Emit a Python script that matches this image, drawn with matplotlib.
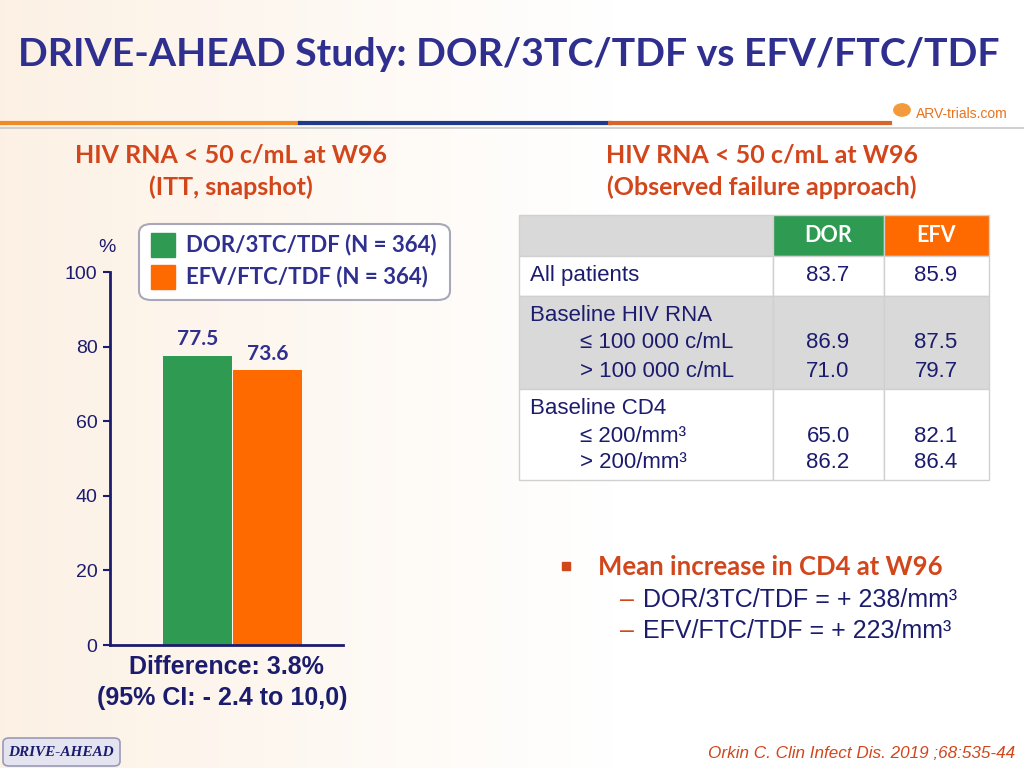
import numpy as np
import matplotlib.pyplot as plt
from matplotlib.patches import Rectangle, FancyBboxPatch

# ---- data ----
regimens = ["DOR/3TC/TDF (N = 364)", "EFV/FTC/TDF (N = 364)"]
itt_values = [77.5, 73.6]
bar_colors = ["#2e9a52", "#ff6a00"]
yticks = [0, 20, 40, 60, 80, 100]

table_cols = ["DOR", "EFV"]
table_labels = ["All patients", "Baseline HIV RNA", "≤ 100 000 c/mL", "> 100 000 c/mL",
                "Baseline CD4", "≤ 200/mm³", "> 200/mm³"]
dor_values = [83.7, None, 86.9, 71.0, None, 65.0, 86.2]
efv_values = [85.9, None, 87.5, 79.7, None, 82.1, 86.4]

cd4_regimens = ["DOR/3TC/TDF", "EFV/FTC/TDF"]
cd4_increase = [238, 223]

NAVY = "#1c1c6e"
TITLE_BLUE = "#2e2f8f"
ORANGE_RED = "#d2461c"
W, H = 1024, 768


def px(x, y):
    return x / W, 1 - y / H


fig = plt.figure(figsize=(10.24, 7.68), dpi=100)

# background gradient (cream on left fading to white)
bg = fig.add_axes([0, 0, 1, 1], zorder=-10)
grad = np.linspace(0, 1, 256)
rgb0 = np.array([0.99, 0.945, 0.895])
rgb1 = np.array([1.0, 1.0, 1.0])
t = np.clip(grad / 0.6, 0, 1)[None, :, None]
img = rgb0 * (1 - t) + rgb1 * t
bg.imshow(np.repeat(img, 2, axis=0), aspect="auto", extent=[0, 1, 0, 1])
bg.axis("off")

# title
fig.text(*px(18, 55), "DRIVE-AHEAD Study: DOR/3TC/TDF vs EFV/FTC/TDF",
         family="Lato", weight="bold", fontsize=28.3, color=TITLE_BLUE, va="center", ha="left")

# header rule
for x0, x1, c in [(0, 300, "#f08a24"), (300, 610, "#1f3a8a"), (610, 890, "#d9642a")]:
    fig.add_artist(plt.Line2D([x0 / W, x1 / W], [1 - 123 / H] * 2, color=c, lw=3))
fig.add_artist(plt.Line2D([0, 1], [1 - 128 / H] * 2, color="#c8c8c8", lw=1.2))
fig.add_artist(plt.Circle(px(902, 110), 0.008, color="#f29a3c", transform=fig.transFigure))
fig.text(*px(916, 114), "ARV-trials.com", color="#e8731e", fontsize=10,
         family="Liberation Sans", va="center", ha="left")

# subtitles
for x, lines in [(231, ["HIV RNA < 50 c/mL at W96", "(ITT, snapshot)"]),
                 (762, ["HIV RNA < 50 c/mL at W96", "(Observed failure approach)"])]:
    for i, s in enumerate(lines):
        fig.text(*px(x, 155 + 32 * i), s, family="Lato", weight="bold", fontsize=18,
                 color=ORANGE_RED, ha="center", va="center")

# bar chart
ax = fig.add_axes([110 / W, 1 - 645 / H, 233 / W, (645 - 272) / H])
ax.patch.set_alpha(0)
x = np.arange(len(itt_values))
ax.bar(x, itt_values, width=0.98, color=bar_colors, edgecolor="none")
for xi, v in zip(x, itt_values):
    ax.text(xi, v + 1.8, f"{v:.1f}", ha="center", va="bottom", family="Lato",
            weight="bold", fontsize=15, color=TITLE_BLUE)
ax.set_xlim(-1.25, 2.08)
ax.set_ylim(0, 100)
ax.set_yticks(yticks)
ax.set_xticks([])
ax.tick_params(axis="y", direction="out", length=5, width=1.5, color=NAVY,
               labelsize=14, labelcolor=NAVY, pad=4)
for lab in ax.get_yticklabels():
    lab.set_family("Liberation Sans")
for s in ["top", "right"]:
    ax.spines[s].set_visible(False)
for s in ["left", "bottom"]:
    ax.spines[s].set_color(NAVY)
    ax.spines[s].set_linewidth(2)
fig.text(*px(107, 247), "%", family="Liberation Sans", fontsize=14, color=NAVY,
         ha="center", va="center")

# legend box
fig.add_artist(FancyBboxPatch(px(139, 300), 311 / W, 76 / H,
                              boxstyle="round,pad=0,rounding_size=0.012",
                              transform=fig.transFigure, facecolor="white",
                              edgecolor="#a8a8b8", lw=1.5))
for i, (lab, c) in enumerate(zip(regimens, bar_colors)):
    y = 245 + 32 * i
    fig.add_artist(Rectangle(px(151, y + 12), 24 / W, 24 / H, color=c,
                             transform=fig.transFigure))
    fig.text(*px(186, y), lab, family="Lato", weight="bold", fontsize=16,
             color=TITLE_BLUE, va="center", ha="left")

# difference text
fig.text(*px(226, 667), "Difference: 3.8%", family="Liberation Sans", weight="bold",
         fontsize=18, color=NAVY, ha="center", va="center")
fig.text(*px(222, 698), "(95% CI: - 2.4 to 10,0)", family="Liberation Sans", weight="bold",
         fontsize=18, color=NAVY, ha="center", va="center")

# table
col_x = [519, 773, 884, 989]
row_y = [215, 256, 296, 389, 480]
row_fill = ["#d9d9d9", "white", "#d9d9d9", "white"]
for r in range(4):
    for c in range(3):
        fc = row_fill[r]
        if r == 0 and c > 0:
            fc = bar_colors[c - 1]
        fig.add_artist(Rectangle(px(col_x[c], row_y[r + 1]),
                                 (col_x[c + 1] - col_x[c]) / W,
                                 (row_y[r + 1] - row_y[r]) / H,
                                 facecolor=fc, edgecolor="#d0d0d0", lw=1,
                                 transform=fig.transFigure))
for c, name in enumerate(table_cols):
    fig.text(*px((col_x[c + 1] + col_x[c + 2]) / 2, 236), name, family="Lato",
             weight="bold", fontsize=15.5, color="white", ha="center", va="center")

label_y = [275, 316, 343, 371, 408, 437, 463]
indent = [530, 530, 580, 580, 530, 580, 580]
for lab, y, xl, dv, ev in zip(table_labels, label_y, indent, dor_values, efv_values):
    fig.text(*px(xl, y), lab, family="Liberation Sans", fontsize=16, color=NAVY,
             ha="left", va="center")
    if dv is not None:
        fig.text(*px(828, y), f"{dv:.1f}", family="Liberation Sans", fontsize=16,
                 color=NAVY, ha="center", va="center")
        fig.text(*px(936, y), f"{ev:.1f}", family="Liberation Sans", fontsize=16,
                 color=NAVY, ha="center", va="center")

# CD4 bullet
fig.add_artist(Rectangle(px(562, 570), 8 / W, 8 / H, color=ORANGE_RED,
                         transform=fig.transFigure))
fig.text(*px(598, 567), "Mean increase in CD4 at W96", family="Lato", weight="bold",
         fontsize=18.5, color=ORANGE_RED, ha="left", va="center")
for i, (reg, inc) in enumerate(zip(cd4_regimens, cd4_increase)):
    y = 600 + 31 * i
    fig.text(*px(620, y), "–", family="Liberation Sans", fontsize=18, color=ORANGE_RED,
             ha="left", va="center")
    fig.text(*px(643, y), f"{reg} = + {inc}/mm³", family="Liberation Sans", fontsize=18,
             color=NAVY, ha="left", va="center")

# footer
fig.add_artist(FancyBboxPatch(px(3, 766), 117 / W, 28 / H,
                              boxstyle="round,pad=0,rounding_size=0.006",
                              transform=fig.transFigure, facecolor="#e4e4f0",
                              edgecolor="#9a9ab8", lw=1.2))
fig.text(*px(61, 752), "DRIVE-AHEAD", family="Liberation Serif", style="italic",
         weight="bold", fontsize=11, color=NAVY, ha="center", va="center")
fig.text(*px(1015, 753), "Orkin C. Clin Infect Dis. 2019 ;68:535-44", family="Liberation Sans",
         style="italic", fontsize=12.3, color=ORANGE_RED, ha="right", va="center")

fig.savefig("out.png", dpi=100)
